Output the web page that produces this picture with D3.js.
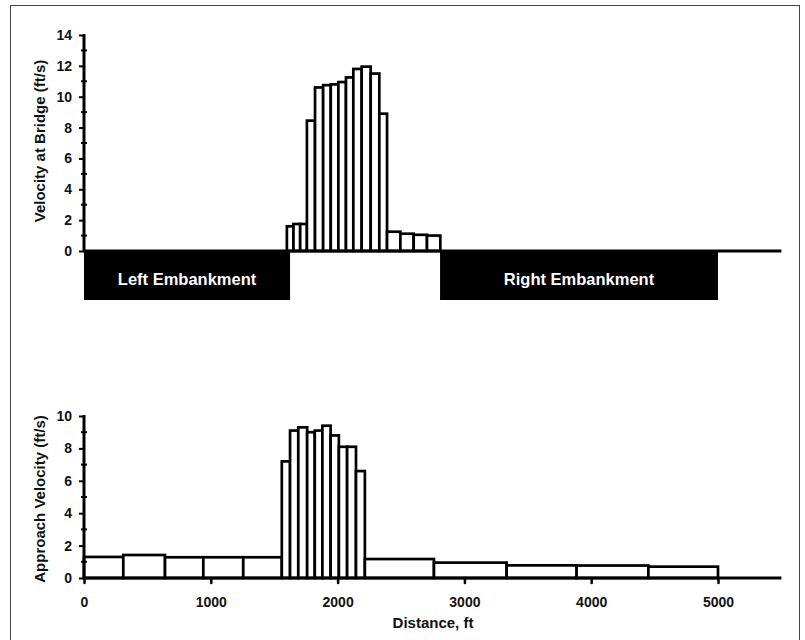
<!DOCTYPE html>
<html><head><meta charset="utf-8">
<script src="https://cdn.jsdelivr.net/npm/d3@7"></script>
<style>
body{margin:0;background:#fff;}
text{font-family:"Liberation Sans",Arial,sans-serif;font-weight:bold;fill:#111;}
</style></head>
<body>
<script>
// ---- data ----
const topBreaks = [1600, 1652, 1705, 1758, 1822, 1886, 1946, 2006, 2066, 2124, 2190, 2261, 2329, 2390, 2495, 2600, 2705, 2810];
const topVelocity = [1.6, 1.75, 1.75, 8.45, 10.6, 10.75, 10.8, 10.95, 11.25, 11.8, 11.95, 11.5, 8.9, 1.25, 1.12, 1.05, 1.0];
const embankNames = ["Left Embankment", "Right Embankment"];
const embankStart = [0, 2808];
const embankEnd = [1625, 5000];
const botBreaks = [0, 310, 639, 941, 1256, 1560, 1625, 1690, 1760, 1820, 1880, 1945, 2010, 2075, 2145, 2215, 2760, 3333, 3885, 4451, 5000];
const botVelocity = [1.3, 1.42, 1.28, 1.28, 1.28, 7.2, 9.1, 9.3, 9.0, 9.1, 9.4, 8.8, 8.1, 8.1, 6.6, 1.17, 0.95, 0.78, 0.77, 0.7];
const xTicks = [0, 1000, 2000, 3000, 4000, 5000];
const topYTicks = [0, 2, 4, 6, 8, 10, 12, 14];
const botYTicks = [0, 2, 4, 6, 8, 10];
const topYLabel = "Velocity at Bridge (ft/s)";
const botYLabel = "Approach Velocity (ft/s)";
const xLabel = "Distance, ft";

const W = 805, H = 640;
const svg = d3.select("body").append("svg").attr("width", W).attr("height", H);
const FONT = '"Liberation Sans",Arial,sans-serif';

// frame
svg.append("rect").attr("x", 10.5).attr("y", 5.5).attr("width", 789).attr("height", 660)
  .attr("fill", "none").attr("stroke", "#444").attr("stroke-width", 1);

const x = d3.scaleLinear().domain([0, 5500]).range([84, 781.4]);
const yTop = d3.scaleLinear().domain([0, 14]).range([251, 35]);
const yBot = d3.scaleLinear().domain([0, 10]).range([578, 416]);

function yAxisDraw(g, y, ticks, maxV) {
  const minor = d3.range(1, maxV, 2);
  g.selectAll(".minor").data(minor).join("line")
    .attr("x1", x(0) - 3).attr("x2", x(0) + 3)
    .attr("y1", d => y(d)).attr("y2", d => y(d))
    .attr("stroke", "#000").attr("stroke-width", 2);
  const ax = d3.axisLeft(y).tickValues(ticks).tickSize(5).tickPadding(7).tickFormat(d3.format("d"));
  const a = g.append("g").attr("transform", `translate(${x(0)},0)`).call(ax);
  a.select(".domain").remove();
  a.selectAll(".tick line").attr("stroke", "#000").attr("stroke-width", 2);
  a.selectAll(".tick text").style("font-size", "14px").style("font-family", FONT).style("font-weight", "bold").attr("fill", "#111");
  g.append("line").attr("x1", x(0)).attr("x2", x(0)).attr("y1", y(maxV) - 1).attr("y2", y(0) + 1)
    .attr("stroke", "#000").attr("stroke-width", 3);
}

// ---------- top panel ----------
const gt = svg.append("g");
gt.selectAll(".emb").data(embankNames).join("rect")
  .attr("x", (d, i) => x(embankStart[i])).attr("y", yTop(0))
  .attr("width", (d, i) => x(embankEnd[i]) - x(embankStart[i])).attr("height", 49)
  .attr("fill", "#000");
gt.selectAll(".embt").data(embankNames).join("text")
  .attr("x", (d, i) => (x(embankStart[i]) + x(embankEnd[i])) / 2).attr("y", 285)
  .attr("text-anchor", "middle").style("font-size", "16.5px").style("fill", "#fff")
  .text(d => d);
gt.selectAll(".bar").data(topVelocity).join("rect")
  .attr("x", (d, i) => x(topBreaks[i])).attr("width", (d, i) => x(topBreaks[i + 1]) - x(topBreaks[i]))
  .attr("y", d => yTop(d)).attr("height", d => yTop(0) - yTop(d))
  .attr("fill", "#fff").attr("stroke", "#000").attr("stroke-width", 2.7);
gt.append("line").attr("x1", x(0)).attr("x2", x(5500)).attr("y1", yTop(0)).attr("y2", yTop(0))
  .attr("stroke", "#000").attr("stroke-width", 3);
yAxisDraw(gt, yTop, topYTicks, 14);
gt.append("text").attr("transform", `translate(45,141) rotate(-90)`)
  .attr("text-anchor", "middle").style("font-size", "15px").text(topYLabel);

// ---------- bottom panel ----------
const gb = svg.append("g");
gb.selectAll(".bar").data(botVelocity).join("rect")
  .attr("x", (d, i) => x(botBreaks[i])).attr("width", (d, i) => x(botBreaks[i + 1]) - x(botBreaks[i]))
  .attr("y", d => yBot(d)).attr("height", d => yBot(0) - yBot(d))
  .attr("fill", "#fff").attr("stroke", "#000").attr("stroke-width", 2.7);
const xa = gb.append("g").attr("transform", `translate(0,${yBot(0)})`)
  .call(d3.axisBottom(x).tickValues(xTicks).tickSize(5).tickPadding(14).tickFormat(d3.format("d")));
xa.select(".domain").remove();
xa.selectAll(".tick line").attr("stroke", "#000").attr("stroke-width", 2.5).attr("stroke-linecap", "round");
xa.selectAll(".tick text").style("font-size", "14px").style("font-family", FONT).style("font-weight", "bold").attr("fill", "#111");
gb.append("line").attr("x1", x(0)).attr("x2", x(5500)).attr("y1", yBot(0)).attr("y2", yBot(0))
  .attr("stroke", "#000").attr("stroke-width", 3);
yAxisDraw(gb, yBot, botYTicks, 10);
gb.append("text").attr("transform", `translate(45,499) rotate(-90)`)
  .attr("text-anchor", "middle").style("font-size", "15px").text(botYLabel);
gb.append("text").attr("x", 433).attr("y", 628).attr("text-anchor", "middle")
  .style("font-size", "15px").text(xLabel);
</script>
</body></html>
